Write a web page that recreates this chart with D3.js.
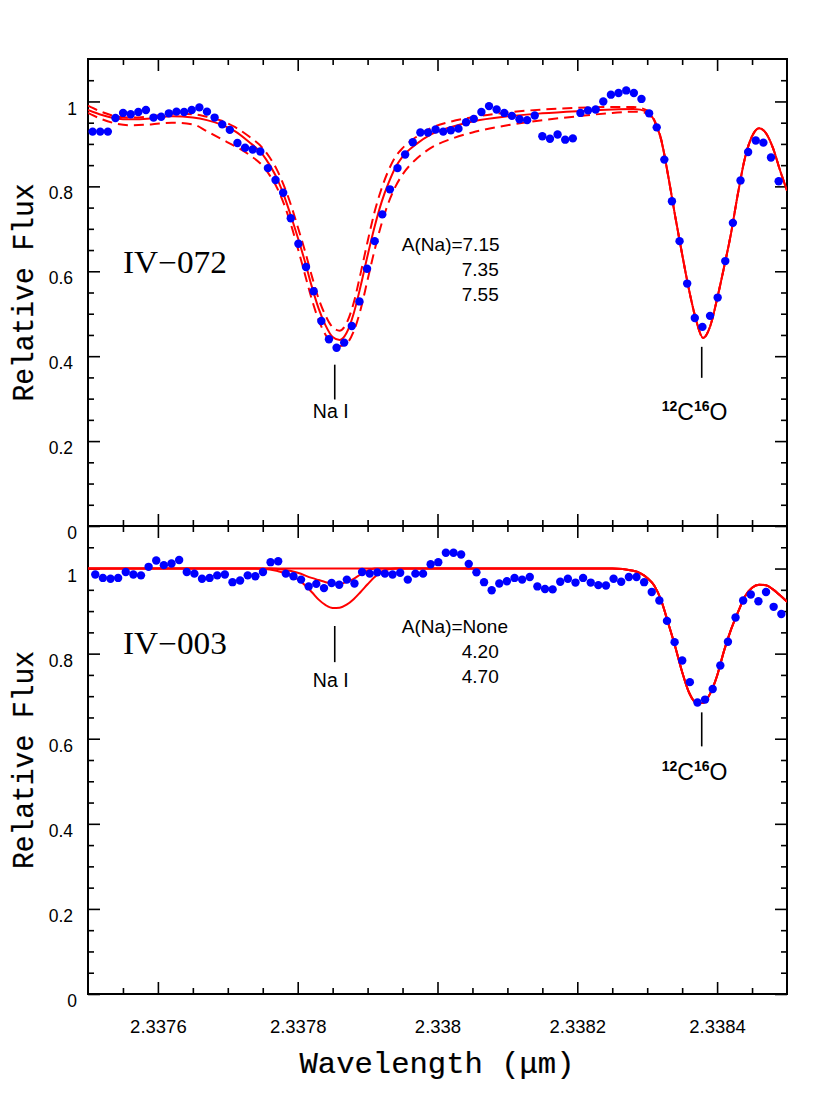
<!DOCTYPE html>
<html><head><meta charset="utf-8">
<script src="https://cdn.jsdelivr.net/npm/d3@7"></script>
<style>body{margin:0;background:#fff}svg{display:block}</style>
</head><body>
<svg id="c" width="830" height="1106"></svg>
<script>
// ---------------- DATA ----------------
const xMajorTicks = [2.3376, 2.3378, 2.3380, 2.3382, 2.3384];
const xMinorTicks = [2.33755,2.33765,2.3377,2.33775,2.33785,2.3379,2.33795,2.33805,2.3381,2.33815,2.33825,2.3383,2.33835,2.33845];
const yMajorTicks = [0, 0.2, 0.4, 0.6, 0.8, 1.0];
const yMinorTicks = [0.05,0.1,0.15,0.25,0.3,0.35,0.45,0.5,0.55,0.65,0.7,0.75,0.85,0.9,0.95,1.05];

// Top panel (IV-072) observed spectrum
const topDotWave = [2.3375066,2.3375175,2.3375284,2.3375393,2.3375502,2.3375611,2.3375720,2.3375829,2.3375938,2.3376047,
 2.3376157,2.3376266,2.3376375,2.3376484,2.3376593,2.3376702,2.3376811,2.3376920,2.3377029,2.3377138,
 2.3377247,2.3377356,2.3377465,2.3377574,2.3377683,2.3377792,2.3377901,2.3378010,2.3378119,2.3378228,
 2.3378338,2.3378447,2.3378556,2.3378665,2.3378774,2.3378883,2.3378992,2.3379101,2.3379210,2.3379319,
 2.3379428,2.3379537,2.3379646,2.3379755,2.3379864,2.3379973,2.3380082,2.3380191,2.3380300,2.3380409,
 2.3380519,2.3380628,2.3380737,2.3380846,2.3380955,2.3381064,2.3381173,2.3381282,2.3381391,2.3381500,
 2.3381609,2.3381718,2.3381827,2.3381936,2.3382045,2.3382154,2.3382263,2.3382372,2.3382481,2.3382590,
 2.3382700,2.3382809,2.3382918,2.3383027,2.3383136,2.3383245,2.3383354,2.3383463,2.3383572,2.3383681,
 2.3383790,2.3383899,2.3384008,2.3384117,2.3384226,2.3384335,2.3384444,2.3384553,2.3384662,2.3384771,
 2.3384881];
const topDotFlux = [0.929,0.929,0.929,0.961,0.973,0.970,0.975,0.980,0.962,0.964,
 0.972,0.976,0.975,0.980,0.986,0.976,0.962,0.946,0.933,0.902,
 0.891,0.887,0.882,0.843,0.815,0.785,0.725,0.665,0.610,0.553,
 0.483,0.440,0.420,0.432,0.471,0.529,0.606,0.671,0.734,0.793,
 0.843,0.875,0.904,0.927,0.927,0.934,0.929,0.932,0.936,0.951,
 0.959,0.975,0.989,0.981,0.973,0.966,0.958,0.956,0.967,0.918,
 0.912,0.922,0.910,0.913,0.973,0.979,0.981,1.000,1.016,1.020,
 1.026,1.020,1.006,0.972,0.939,0.863,0.765,0.671,0.571,0.490,
 0.469,0.495,0.538,0.624,0.714,0.814,0.881,0.908,0.903,0.868,
 0.812];

// Top panel synthetic spectra, A(Na)=7.15 / 7.35 / 7.55
const topModelWave = [2.33750,2.33752,2.33754,2.33756,2.33759,2.33762,2.33765,2.33767,2.33769,2.33771,2.33773,2.33775,
 2.33776,2.33777,2.33778,2.33779,2.33780,2.33781,2.33782,2.33783,2.33784,2.33785,2.33786,2.33787,2.33788,2.33789,
 2.33790,2.33791,2.33792,2.33793,2.33794,2.33795,
 2.33797,2.33799,2.33802,2.33805,2.33810,2.33815,2.33820,2.33825,2.33828,2.33830,
 2.33831,2.33832,2.33833,2.33834,2.33835,2.33836,2.33837,2.33838,2.33839,2.33840,
 2.33841,2.33842,2.33843,2.33844,2.33845,2.33846,2.33847,2.33848,2.33849,2.33850];
const topModel715 = [0.990,0.975,0.965,0.962,0.965,0.971,0.970,0.964,0.955,0.940,0.918,0.890,
 0.868,0.840,0.803,0.758,0.705,0.650,0.590,0.535,0.495,0.468,0.460,0.478,0.525,0.595,
 0.670,0.740,0.795,0.838,0.870,0.890,
 0.917,0.937,0.953,0.963,0.974,0.981,0.985,0.987,0.987,0.979,
 0.957,0.911,0.825,0.730,0.640,0.555,0.485,0.443,0.470,0.535,
 0.610,0.690,0.785,0.868,0.918,0.937,0.925,0.890,0.838,0.790];
const topModel735 = [0.980,0.968,0.960,0.958,0.960,0.965,0.962,0.956,0.946,0.930,0.905,0.875,
 0.850,0.820,0.780,0.732,0.680,0.625,0.565,0.512,0.472,0.445,0.438,0.455,0.500,0.565,
 0.637,0.705,0.763,0.808,0.845,0.870,
 0.900,0.922,0.940,0.953,0.965,0.972,0.977,0.981,0.982,0.976,
 0.955,0.910,0.825,0.730,0.640,0.555,0.485,0.443,0.470,0.535,
 0.610,0.690,0.785,0.868,0.918,0.937,0.925,0.890,0.838,0.790];
const topModel755 = [0.973,0.958,0.948,0.944,0.946,0.950,0.946,0.930,0.912,0.895,0.875,0.848,
 0.826,0.798,0.760,0.712,0.655,0.595,0.535,0.485,0.450,0.430,0.424,0.430,0.458,0.510,
 0.580,0.650,0.712,0.762,0.800,0.828,
 0.865,0.890,0.912,0.927,0.944,0.956,0.965,0.973,0.976,0.972,
 0.953,0.909,0.825,0.730,0.640,0.555,0.485,0.443,0.470,0.535,
 0.610,0.690,0.785,0.868,0.918,0.937,0.925,0.890,0.838,0.790];

// Bottom panel (IV-003) observed spectrum
const botDotWave = [2.3375104,2.3375213,2.3375322,2.3375431,2.3375540,2.3375649,2.3375758,2.3375867,2.3375976,2.3376085,
 2.3376195,2.3376304,2.3376413,2.3376522,2.3376631,2.3376740,2.3376849,2.3376958,2.3377067,2.3377176,
 2.3377285,2.3377394,2.3377503,2.3377612,2.3377721,2.3377830,2.3377939,2.3378048,2.3378157,2.3378266,
 2.3378376,2.3378485,2.3378594,2.3378703,2.3378812,2.3378921,2.3379030,2.3379139,2.3379248,2.3379357,
 2.3379466,2.3379575,2.3379684,2.3379793,2.3379902,2.3380011,2.3380120,2.3380229,2.3380338,2.3380447,
 2.3380557,2.3380666,2.3380775,2.3380884,2.3380993,2.3381102,2.3381211,2.3381320,2.3381429,2.3381538,
 2.3381647,2.3381756,2.3381865,2.3381974,2.3382083,2.3382192,2.3382301,2.3382410,2.3382519,2.3382628,
 2.3382738,2.3382847,2.3382956,2.3383065,2.3383174,2.3383283,2.3383392,2.3383501,2.3383610,2.3383719,
 2.3383828,2.3383937,2.3384046,2.3384155,2.3384264,2.3384373,2.3384482,2.3384591,2.3384700,2.3384809,
 2.3384919];
const botDotFlux = [0.986,0.978,0.976,0.978,0.992,0.986,0.984,1.004,1.019,1.008,
 1.012,1.020,0.992,0.988,0.976,0.978,0.984,0.986,0.968,0.972,
 0.984,0.982,0.992,1.015,1.017,0.988,0.982,0.974,0.958,0.964,
 0.954,0.966,0.962,0.974,0.965,0.992,0.988,0.991,0.988,0.986,
 0.990,0.974,0.988,0.988,1.010,1.015,1.037,1.037,1.033,1.011,
 0.991,0.968,0.949,0.965,0.970,0.978,0.974,0.980,0.958,0.952,
 0.951,0.969,0.976,0.967,0.978,0.967,0.961,0.960,0.976,0.969,
 0.980,0.980,0.968,0.945,0.925,0.877,0.827,0.784,0.733,0.685,
 0.692,0.717,0.772,0.828,0.885,0.925,0.939,0.923,0.945,0.910,
 0.893];

// Bottom panel synthetic spectra, A(Na)=None / 4.20 / 4.70
const botModelWave = [2.33750,2.33774,2.33776,2.33778,2.33780,2.33782,
 2.33783,2.33784,2.33785,2.33786,2.33787,2.33788,2.33789,2.33790,2.33791,2.33792,
 2.33794,2.33810,2.33825,2.33828,2.33830,
 2.33831,2.33832,2.33833,2.33834,2.33835,2.33836,2.33837,2.33838,2.33839,2.33840,
 2.33841,2.33842,2.33843,2.33844,2.33845,2.33846,2.33847,2.33848,2.33849,2.33850];
const botModelNone = [1,1,1,1,1,1,
 1,1,1,1,1,1,1,1,1,1,
 1,1,1,0.995,0.978,
 0.960,0.925,0.872,0.817,0.757,0.708,0.685,0.684,0.706,0.748,
 0.807,0.857,0.898,0.935,0.955,0.962,0.961,0.951,0.937,0.922];
const botModel420 = [1,1,1,0.997,0.990,0.978,
 0.973,0.968,0.965,0.964,0.968,0.976,0.986,0.995,1,1,
 1,1,1,0.995,0.978,
 0.960,0.925,0.872,0.817,0.757,0.708,0.685,0.684,0.706,0.748,
 0.807,0.857,0.898,0.935,0.955,0.962,0.961,0.951,0.937,0.922];
const botModel470 = [1,1,0.998,0.990,0.975,0.945,
 0.927,0.914,0.907,0.908,0.915,0.928,0.945,0.963,0.980,0.993,
 1,1,1,0.995,0.978,
 0.960,0.925,0.872,0.817,0.757,0.708,0.685,0.684,0.706,0.748,
 0.807,0.857,0.898,0.935,0.955,0.962,0.961,0.951,0.937,0.922];

const topLegend = ["A(Na)=7.15", "7.35", "7.55"];
const botLegend = ["A(Na)=None", "4.20", "4.70"];
const starNames = ["IV\u2212072", "IV\u2212003"];

// ---------------- DRAWING ----------------
const W = 830, H = 1106;
const svg = d3.select("#c");
svg.append("rect").attr("width", W).attr("height", H).attr("fill", "#fff");

const SANS = "'Liberation Sans', Arial, Helvetica, sans-serif";
const MONO = "'Liberation Mono', 'Courier New', monospace";
const SERIF = "'Liberation Serif', 'Times New Roman', serif";

const x = d3.scaleLinear().domain([2.3375, 2.3385]).range([88, 787]);
const zip = (a, b) => a.map((v, i) => [v, b[i]]);

const panels = [
  { top: 59, bottom: 526, name: starNames[0], dots: zip(topDotWave, topDotFlux),
    models: [ {d: zip(topModelWave, topModel715), dash: "10,6"},
              {d: zip(topModelWave, topModel755), dash: "10,6"},
              {d: zip(topModelWave, topModel735), dash: null} ],
    legend: topLegend, legendY: 0.648, nameY: 0.596,
    na: {w: 2.337853, y0: 0.380, y1: 0.298, ty: 0.254},
    co: {w: 2.338378, y0: 0.422, y1: 0.349, ty: 0.250},
    xLabels: false },
  { top: 526, bottom: 994, name: starNames[1], dots: zip(botDotWave, botDotFlux),
    models: [ {d: zip(botModelWave, botModelNone), dash: null},
              {d: zip(botModelWave, botModel420), dash: null},
              {d: zip(botModelWave, botModel470), dash: null} ],
    legend: botLegend, legendY: 0.848, nameY: 0.799,
    na: {w: 2.337853, y0: 0.865, y1: 0.780, ty: 0.721},
    co: {w: 2.338378, y0: 0.662, y1: 0.582, ty: 0.504},
    xLabels: true }
];

const fmtX = d => String(+d.toFixed(4));
const fmtY = d => String(+d.toFixed(1));

panels.forEach((p, pi) => {
  const y = d3.scaleLinear().domain([0, 1.1]).range([p.bottom, p.top]);
  const g = svg.append("g");
  const clipId = "clip" + pi;
  svg.append("clipPath").attr("id", clipId).append("rect")
     .attr("x", x.range()[0]).attr("y", p.top).attr("width", x.range()[1] - x.range()[0]).attr("height", p.bottom - p.top);

  const axisStyle = (sel, fs) => {
    sel.select(".domain").remove();
    sel.selectAll(".tick line").attr("stroke", "#000").attr("stroke-width", 1.6);
    sel.attr("font-family", SANS).attr("font-size", fs || 17.5);
  };
  const MAJ = 12, MIN = 6;
  // bottom
  g.append("g").attr("transform", `translate(0,${p.bottom})`)
    .call(d3.axisBottom(x).tickValues(xMajorTicks).tickSizeInner(-MAJ).tickSizeOuter(0).tickPadding(26)
      .tickFormat(p.xLabels ? fmtX : () => "")).call(axisStyle, 18.5);
  g.append("g").attr("transform", `translate(0,${p.bottom})`)
    .call(d3.axisBottom(x).tickValues(xMinorTicks).tickSizeInner(-MIN).tickSizeOuter(0).tickFormat(() => "")).call(axisStyle);
  // top
  g.append("g").attr("transform", `translate(0,${p.top})`)
    .call(d3.axisTop(x).tickValues(xMajorTicks).tickSizeInner(-MAJ).tickSizeOuter(0).tickFormat(() => "")).call(axisStyle);
  g.append("g").attr("transform", `translate(0,${p.top})`)
    .call(d3.axisTop(x).tickValues(xMinorTicks).tickSizeInner(-MIN).tickSizeOuter(0).tickFormat(() => "")).call(axisStyle);
  // left
  const la = g.append("g").attr("transform", `translate(${x.range()[0]},0)`)
    .call(d3.axisLeft(y).tickValues(yMajorTicks).tickSizeInner(-MAJ).tickSizeOuter(0).tickPadding(15).tickFormat(fmtY)).call(axisStyle, 17.5);
  la.selectAll(".tick text").attr("dy", "0.72em").attr("dx", d => Number.isInteger(d) ? 4 : 0);
  g.append("g").attr("transform", `translate(${x.range()[0]},0)`)
    .call(d3.axisLeft(y).tickValues(yMinorTicks).tickSizeInner(-MIN).tickSizeOuter(0).tickFormat(() => "")).call(axisStyle);
  // right
  g.append("g").attr("transform", `translate(${x.range()[1]},0)`)
    .call(d3.axisRight(y).tickValues(yMajorTicks).tickSizeInner(-MAJ).tickSizeOuter(0).tickFormat(() => "")).call(axisStyle);
  g.append("g").attr("transform", `translate(${x.range()[1]},0)`)
    .call(d3.axisRight(y).tickValues(yMinorTicks).tickSizeInner(-MIN).tickSizeOuter(0).tickFormat(() => "")).call(axisStyle);

  // frame
  g.append("rect").attr("x", x.range()[0]).attr("y", p.top)
    .attr("width", x.range()[1] - x.range()[0]).attr("height", p.bottom - p.top)
    .attr("fill", "none").attr("stroke", "#000").attr("stroke-width", 2);

  // model curves
  const line = d3.line().x(d => x(d[0])).y(d => y(d[1])).curve(d3.curveMonotoneX);
  const cg = g.append("g").attr("clip-path", `url(#${clipId})`);
  p.models.forEach(m => {
    cg.append("path").attr("d", line(m.d)).attr("fill", "none").attr("stroke", "#ff0000")
      .attr("stroke-width", 2).attr("stroke-dasharray", m.dash);
  });
  // observed points
  cg.selectAll("circle.obs").data(p.dots).join("circle").attr("class", "obs")
    .attr("cx", d => x(d[0])).attr("cy", d => y(d[1])).attr("r", 4.2).attr("fill", "#0000ff");

  // star name
  g.append("text").attr("x", x(2.33755)).attr("y", y(p.nameY))
    .attr("font-family", SERIF).attr("font-size", 31).attr("textLength", 104).attr("lengthAdjust", "spacingAndGlyphs")
    .text(p.name);

  // legend text
  g.append("text").attr("x", x(2.337949)).attr("y", y(p.legendY))
    .attr("font-family", SANS).attr("font-size", 19).text(p.legend[0]);
  p.legend.slice(1).forEach((t, i) => {
    g.append("text").attr("x", x(2.3380347)).attr("y", y(p.legendY) + 25 * (i + 1))
      .attr("font-family", SANS).attr("font-size", 19).text(t);
  });

  // Na I marker
  g.append("line").attr("x1", x(p.na.w)).attr("x2", x(p.na.w)).attr("y1", y(p.na.y0)).attr("y2", y(p.na.y1))
    .attr("stroke", "#000").attr("stroke-width", 1.6);
  g.append("text").attr("x", x(p.na.w) - 4).attr("y", y(p.na.ty)).attr("text-anchor", "middle")
    .attr("font-family", SANS).attr("font-size", 19.5).text("Na I");
  // CO marker
  g.append("line").attr("x1", x(p.co.w)).attr("x2", x(p.co.w)).attr("y1", y(p.co.y0)).attr("y2", y(p.co.y1))
    .attr("stroke", "#000").attr("stroke-width", 1.6);
  const ct = g.append("text").attr("x", x(p.co.w) - 40).attr("y", y(p.co.ty))
    .attr("font-family", SANS).attr("font-size", 23);
  ct.append("tspan").attr("font-size", 14).attr("font-weight", "bold").attr("dy", -9).text("12");
  ct.append("tspan").attr("dy", 9).text("C");
  ct.append("tspan").attr("font-size", 14).attr("font-weight", "bold").attr("dy", -9).text("16");
  ct.append("tspan").attr("dy", 9).text("O");

  // y axis title
  svg.append("text").attr("transform", `translate(33,${(p.top + p.bottom) / 2}) rotate(-90)`)
    .attr("text-anchor", "middle").attr("font-family", MONO).attr("font-size", 30)
    .attr("stroke", "#000").attr("stroke-width", 0.2)
    .attr("textLength", 218).attr("lengthAdjust", "spacingAndGlyphs").text("Relative Flux");
});

// x axis title
svg.append("text").attr("x", 437).attr("y", 1073).attr("text-anchor", "middle")
  .attr("font-family", MONO).attr("font-size", 30).attr("stroke", "#000").attr("stroke-width", 0.2)
  .attr("textLength", 275).attr("lengthAdjust", "spacingAndGlyphs").text("Wavelength (\u03bcm)");
</script>
</body></html>
